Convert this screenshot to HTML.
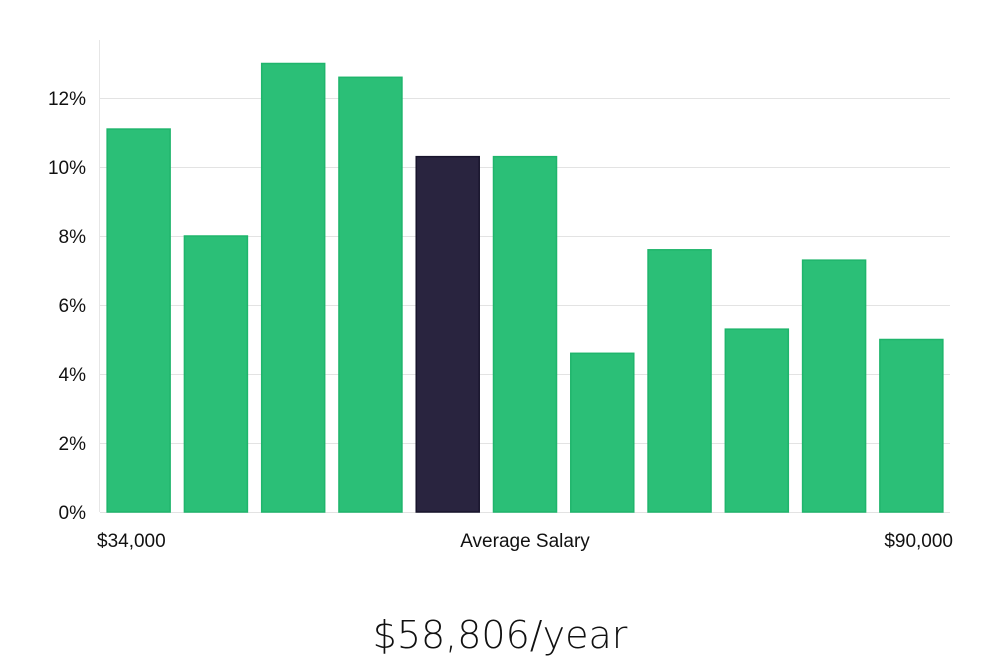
<!DOCTYPE html>
<html><head><meta charset="utf-8"><style>
body{margin:0;background:#fff;width:1000px;height:660px;overflow:hidden;font-family:"Liberation Sans","DejaVu Sans",sans-serif;}
</style></head><body>
<svg width="1000" height="660" xmlns="http://www.w3.org/2000/svg">
<g id="grid"></g>
<line x1="99.5" y1="40" x2="99.5" y2="512" stroke="#e6e6e6"/>
<g id="bars"></g>
<g id="yt"></g>
<text x="97" y="547" font-size="19" fill="#111">$34,000</text>
<text x="525" y="547" font-size="19" fill="#111" text-anchor="middle">Average Salary</text>
<text x="953" y="547" font-size="19" fill="#111" text-anchor="end">$90,000</text>
<text x="500" y="648" font-size="38" fill="#111" text-anchor="middle" font-family="DejaVu Sans, sans-serif" font-weight="300">$58,806/year</text>
</svg>
<script>
const values=[11.1,8.0,13.0,12.6,10.3,10.3,4.6,7.6,5.3,7.3,5.0];
const highlight=[4];
const yTicks=[0,2,4,6,8,10,12];
const ns="http://www.w3.org/2000/svg";
const x0=100,x1=950,yBase=512,pxPer=34.5;
const y=v=>yBase-v*pxPer;
const step=(x1-x0)/values.length,bw=63;
const grid=document.getElementById('grid'),yt=document.getElementById('yt'),bars=document.getElementById('bars');
yTicks.forEach(t=>{
 const l=document.createElementNS(ns,'line');
 l.setAttribute('x1',x0);l.setAttribute('x2',x1);l.setAttribute('y1',y(t)+0.5);l.setAttribute('y2',y(t)+0.5);
 l.setAttribute('stroke','#e3e3e3');
 
 
 grid.appendChild(l);
 const tx=document.createElementNS(ns,'text');
 tx.setAttribute('x',86);tx.setAttribute('y',y(t)+7);tx.setAttribute('text-anchor','end');
 tx.setAttribute('font-size','19');tx.setAttribute('fill','#111');tx.textContent=t+'%';
 
 
 yt.appendChild(tx);
});
values.forEach((v,i)=>{
 const r=document.createElementNS(ns,'rect');
 const hi=highlight.includes(i);
 r.setAttribute('x',x0+i*step+(step-bw)/2);r.setAttribute('y',y(v));
 r.setAttribute('width',bw);r.setAttribute('height',yBase-y(v));
 r.setAttribute('fill',hi?'#29243f':'#2bbf77');
 r.setAttribute('stroke',hi?'#18142c':'#1fb56c');r.setAttribute('stroke-width','1.5');
 
 
 bars.appendChild(r);
});
</script>
</body></html>
